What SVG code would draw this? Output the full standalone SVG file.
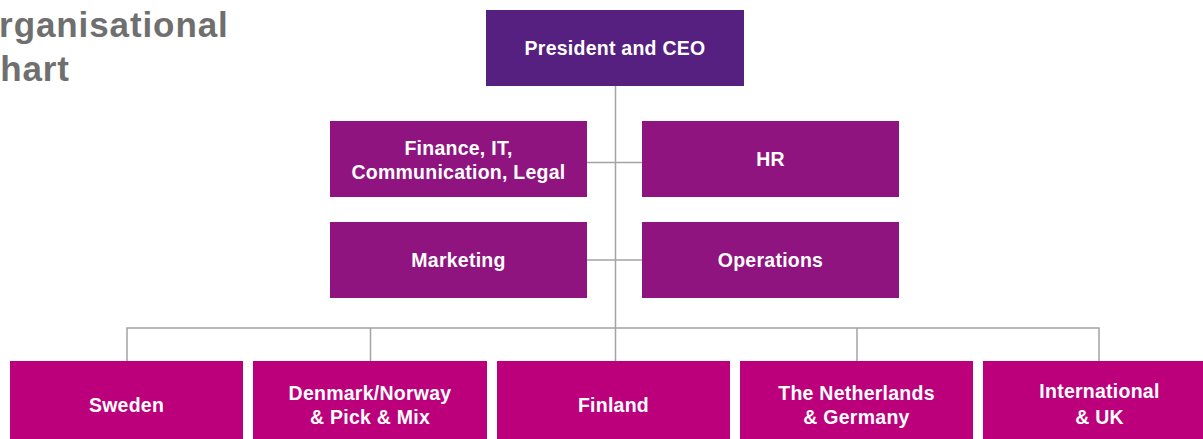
<svg xmlns="http://www.w3.org/2000/svg" width="1203" height="439" viewBox="0 0 1203 439">
<style>
.t{font-family:"Liberation Sans",Arial,sans-serif;font-weight:bold;fill:#fff;font-size:19.5px;letter-spacing:0.25px;text-anchor:middle}
.title{font-family:"Liberation Sans",Arial,sans-serif;font-weight:bold;fill:#6f6f6f;font-size:35px;letter-spacing:0.9px}
.ceo{fill:#55207f}
.mid{fill:#8f1480}
.bot{fill:#bc007c}
.c{stroke:#a3a3a3;stroke-width:1.5;fill:none}
</style>
<g id="title">
<text class="title" x="-29" y="37">Organisational</text>
<text class="title" x="-26" y="81">Chart</text>
</g>
<g id="connectors">
<path class="c" d="M615.5 86V361"/>
<path class="c" d="M587 162.5H642"/>
<path class="c" d="M587 260H642"/>
<path class="c" d="M127 361V328H1099V361"/>
<path class="c" d="M370.5 328V361"/>
<path class="c" d="M857 328V361"/>
</g>
<g id="ceo">
<rect class="ceo" x="486" y="10" width="258" height="76"/>
<text class="t" x="615" y="55">President and CEO</text>
</g>
<g id="finance">
<rect class="mid" x="330" y="121" width="257" height="76"/>
<text class="t" x="458.5" y="155">Finance, IT,</text>
<text class="t" x="458.5" y="179">Communication, Legal</text>
</g>
<g id="hr">
<rect class="mid" x="642" y="121" width="257" height="76"/>
<text class="t" x="770.5" y="166">HR</text>
</g>
<g id="marketing">
<rect class="mid" x="330" y="222" width="257" height="76"/>
<text class="t" x="458.5" y="267">Marketing</text>
</g>
<g id="operations">
<rect class="mid" x="642" y="222" width="257" height="76"/>
<text class="t" x="770.5" y="267">Operations</text>
</g>
<g id="sweden">
<rect class="bot" x="10" y="361" width="233" height="80"/>
<text class="t" x="126.5" y="412">Sweden</text>
</g>
<g id="denmark">
<rect class="bot" x="253" y="361" width="234" height="80"/>
<text class="t" x="370" y="400">Denmark/Norway</text>
<text class="t" x="370" y="424">&amp; Pick &amp; Mix</text>
</g>
<g id="finland">
<rect class="bot" x="497" y="361" width="233" height="80"/>
<text class="t" x="613.5" y="412">Finland</text>
</g>
<g id="netherlands">
<rect class="bot" x="740" y="361" width="233" height="80"/>
<text class="t" x="856.5" y="400">The Netherlands</text>
<text class="t" x="856.5" y="424">&amp; Germany</text>
</g>
<g id="international">
<rect class="bot" x="983" y="361" width="233" height="80"/>
<text class="t" x="1099.5" y="398">International</text>
<text class="t" x="1099.5" y="424">&amp; UK</text>
</g>
</svg>
